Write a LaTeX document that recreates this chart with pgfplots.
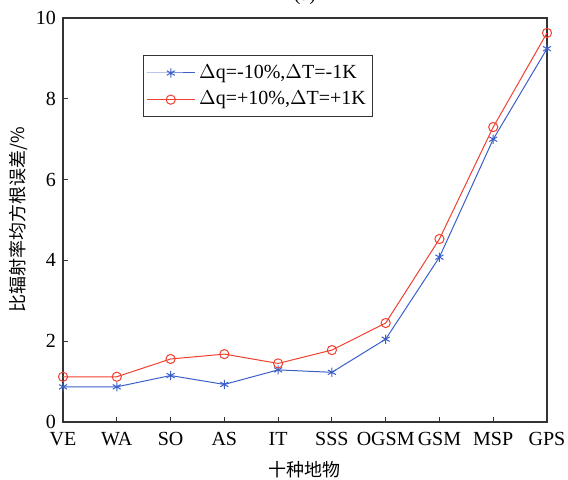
\documentclass[border=0pt]{standalone}
\usepackage{pgfplots}
\pgfplotsset{compat=1.18}
\usepackage{fontspec}
\setmainfont{Liberation Serif}
\newfontfamily\cjk{Noto Sans CJK SC}

\definecolor{lineblue}{RGB}{58,95,200}
\definecolor{linered}{RGB}{240,64,48}

\begin{document}
\begin{tikzpicture}
\begin{axis}[
    width=242pt, height=202pt,
    scale only axis,
    xmin=0, xmax=9,
    ymin=0, ymax=10,
    xtick={0,...,9},
    xticklabels={VE,WA,SO,AS,IT,SSS,OGSM,GSM,MSP,GPS},
    ytick={0,2,...,10},
    tick pos=left,
    tick align=inside,
    major tick length=2.5pt,
    axis line style={black!80, line width=0.6pt},
    tick style={black!80, line width=0.5pt},
    tick label style={font=\fontsize{10}{12}\selectfont},
    /pgf/number format/assume math mode=true,
    xticklabel style={yshift=-1.5pt},
    xlabel={\cjk\fontsize{9}{11}\selectfont 十种地物},
    ylabel={\cjk\fontsize{9}{11}\selectfont 比辐射率均方根误差/\%},
    xlabel style={yshift=-1pt},
    ylabel style={yshift=-3pt},
    title={(a)},
    title style={overlay, font=\fontsize{10}{12}\selectfont, yshift=-3pt},
    legend style={at={(0.165,0.908)}, anchor=north west,
        font=\fontsize{10}{12}\selectfont, draw=black!80, line width=0.5pt,
        inner xsep=1.5pt, inner ysep=2.5pt, row sep=1pt},
    legend cell align=left,
    legend image code/.code={%
        \draw[mark repeat=2, mark phase=2]
            plot coordinates {(0cm,0cm) (0.42cm,0cm) (0.84cm,0cm)};},
]
\addplot[lineblue, line width=0.5pt, mark=asterisk, mark size=2.3pt,
    mark options={line width=0.5pt}] coordinates {
    (0,0.87) (1,0.87) (2,1.15) (3,0.93) (4,1.29)
    (5,1.23) (6,2.05) (7,4.08) (8,7.00) (9,9.24)
};
\addlegendentry{$\Delta$q=-10\%,$\Delta$T=-1K}
\addplot[linered, line width=0.5pt, mark=o, mark size=2.3pt,
    mark options={line width=0.5pt}] coordinates {
    (0,1.12) (1,1.12) (2,1.56) (3,1.68) (4,1.45)
    (5,1.78) (6,2.45) (7,4.53) (8,7.30) (9,9.63)
};
\addlegendentry{$\Delta$q=+10\%,$\Delta$T=+1K}
\end{axis}
\pgfresetboundingbox
\path ([shift={(-31.5pt,-28.5pt)}]current axis.south west)
    rectangle ([shift={(10.5pt,9pt)}]current axis.north east);
\end{tikzpicture}
\end{document}
